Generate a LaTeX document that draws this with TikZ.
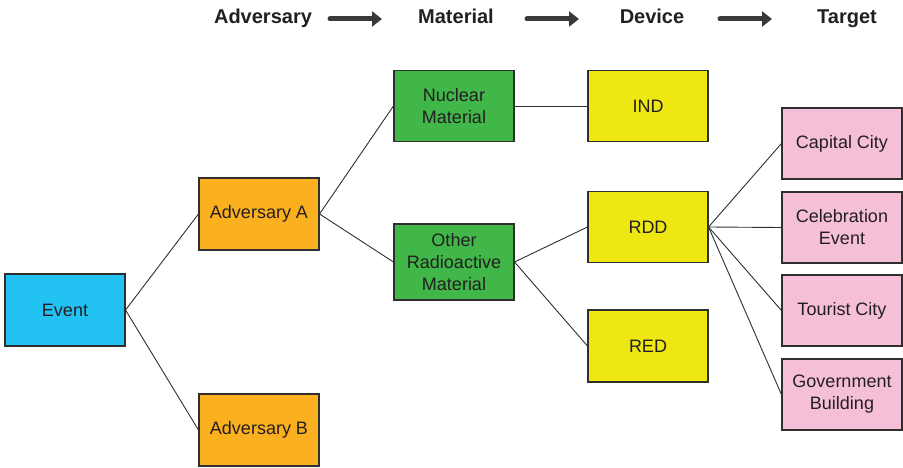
\documentclass[tikz,border=0pt]{standalone}
\usepackage{fontspec}
\setmainfont{Liberation Sans}
\usetikzlibrary{arrows.meta}
\definecolor{evc}{HTML}{22C3F2}
\definecolor{advc}{HTML}{FBB01F}
\definecolor{matc}{HTML}{41B649}
\definecolor{devc}{HTML}{EEE712}
\definecolor{tgc}{HTML}{F6BFD8}
\definecolor{edgec}{HTML}{2F2F2F}
\definecolor{txtc}{HTML}{231F20}
\tikzset{
  box/.style={draw=edgec, line width=1.1pt, minimum width=120pt, minimum height=71pt, inner sep=2pt, align=center, font=\fontsize{18}{22}\selectfont, text=txtc},
  head/.style={font=\fontsize{20}{22}\selectfont\bfseries, text=txtc, anchor=base},
  link/.style={draw=edgec, line width=0.9pt},
  harrow/.style={draw=edgec!95, line width=5pt, line cap=round, -{Triangle[length=10pt,width=15pt]}}
}
\begin{document}
\begin{tikzpicture}[x=1pt,y=-1pt]
\useasboundingbox (0,0) rectangle (903,468);
% headers
\node[head] (hA) at (263,24) {Adversary};
\node[head] (hM) at (456,24) {Material};
\node[head] (hD) at (652,24) {Device};
\node[head] (hT) at (847,24) {Target};
\coordinate (a1s) at (330,19); \coordinate (a1e) at (382,19);
\coordinate (a2s) at (527,19); \coordinate (a2e) at (579,19);
\coordinate (a3s) at (720,19); \coordinate (a3e) at (772,19);
\draw[harrow] (a1s) -- (a1e);
\draw[harrow] (a2s) -- (a2e);
\draw[harrow] (a3s) -- (a3e);
% nodes
\node[box, fill=evc, minimum height=72pt] (ev) at (65,310) {Event};
\node[box, fill=advc, minimum height=72pt] (advA) at (259,214) {Adversary A};
\node[box, fill=advc, minimum height=72pt] (advB) at (259,430) {Adversary B};
\node[box, fill=matc] (nuc) at (454,106) {Nuclear\\Material};
\node[box, fill=matc, minimum height=76pt] (oth) at (454,262) {Other\\Radioactive\\Material};
\node[box, fill=devc] (ind) at (648,106) {IND};
\node[box, fill=devc] (rdd) at (648,227) {RDD};
\node[box, fill=devc, minimum height=72pt] (red) at (648,346) {RED};
\node[box, fill=tgc] (cap) at (842,143.5) {Capital City};
\node[box, fill=tgc] (cel) at (842,227.5) {Celebration\\Event};
\node[box, fill=tgc] (tou) at (842,310.5) {Tourist City};
\node[box, fill=tgc] (gov) at (842,394.5) {Government\\Building};
% links
\draw[link] (ev.east) -- (advA.west);
\draw[link] (ev.east) -- (advB.west);
\draw[link] (advA.east) -- (nuc.west);
\draw[link] (advA.east) -- (oth.west);
\draw[link] (nuc.east) -- (ind.west);
\draw[link] (oth.east) -- (rdd.west);
\draw[link] (oth.east) -- (red.west);
\draw[link] (rdd.east) -- (cap.west);
\draw[link] (rdd.east) -- (cel.west);
\draw[link] (rdd.east) -- (tou.west);
\draw[link] (rdd.east) -- (gov.west);
\end{tikzpicture}
\end{document}
